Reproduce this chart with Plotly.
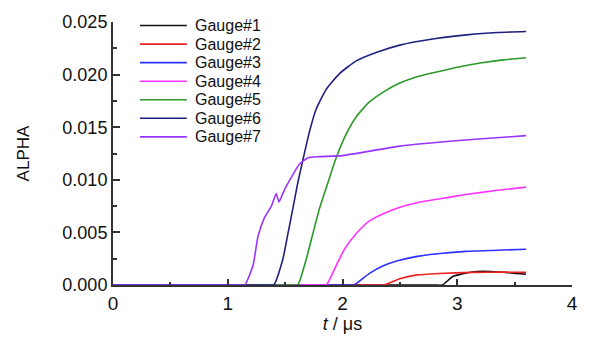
import plotly.graph_objects as go

names = ["Gauge#1", "Gauge#2", "Gauge#3", "Gauge#4", "Gauge#5", "Gauge#6", "Gauge#7"]
colors = ["#111111", "#ee2222", "#3030ff", "#ff33ff", "#2a9a2a", "#20207f", "#9933ff"]

t1 = [0, 2.80, 2.87, 2.96, 3.05, 3.13, 3.22, 3.32, 3.42, 3.6]
a1 = [0, 0, 0, 0.0008, 0.00108, 0.00124, 0.0013, 0.00126, 0.0012, 0.00102]

t2 = [0, 2.30, 2.36, 2.5, 2.64, 2.84, 3.13, 3.4, 3.6]
a2 = [0, 0, 0, 0.0006, 0.00094, 0.0011, 0.0012, 0.00122, 0.0012]

t3 = [0, 2.04, 2.10, 2.235, 2.35, 2.48, 2.64, 2.85, 3.075, 3.35, 3.6]
a3 = [0, 0, 0, 0.0011, 0.0018, 0.0023, 0.0027, 0.0030, 0.0032, 0.0033, 0.0034]

t4 = [0, 1.80, 1.858, 1.945, 2.017, 2.12, 2.235, 2.38, 2.5, 2.64, 2.85, 3.075, 3.35, 3.6]
a4 = [0, 0, 0, 0.00185, 0.0034, 0.0049, 0.0061, 0.0069, 0.0074, 0.0078, 0.0082, 0.0086, 0.0090, 0.0093]

t5 = [0, 1.56, 1.61, 1.684, 1.742, 1.8, 1.872, 1.945, 2.03, 2.12, 2.235, 2.38, 2.5, 2.65, 2.8, 3.0, 3.2, 3.4, 3.6]
a5 = [0, 0, 0, 0.00245, 0.0049, 0.0073, 0.0097, 0.0121, 0.0143, 0.0160, 0.0174, 0.0185, 0.0192, 0.0198, 0.0202, 0.0207, 0.0211, 0.0214, 0.0216]

t6 = [0, 1.34, 1.40, 1.48, 1.525, 1.568, 1.61, 1.655, 1.713, 1.77, 1.858, 1.974, 2.12, 2.293, 2.5, 2.8, 3.1, 3.35, 3.6]
a6 = [0, 0, 0, 0.00245, 0.0049, 0.0073, 0.0097, 0.0119, 0.0146, 0.0167, 0.0186, 0.0201, 0.0213, 0.0221, 0.0228, 0.0234, 0.0238, 0.0240, 0.0241]

t7 = [0, 1.10, 1.148, 1.22, 1.263, 1.32, 1.38, 1.423, 1.446, 1.496, 1.568, 1.626, 1.7, 1.8, 2.0, 2.5, 3.1, 3.6]
a7 = [0, 0, 0, 0.00185, 0.0046, 0.0064, 0.0075, 0.0087, 0.0079, 0.0091, 0.0105, 0.0115, 0.0121, 0.0122, 0.0123, 0.0132, 0.0138, 0.0142]

xs = [t1, t2, t3, t4, t5, t6, t7]
ys = [a1, a2, a3, a4, a5, a6, a7]

x_ticks = [0, 1, 2, 3, 4]
y_ticks = [0.0, 0.005, 0.010, 0.015, 0.020, 0.025]
y_tick_labels = ["0.000", "0.005", "0.010", "0.015", "0.020", "0.025"]

FONT = "Liberation Sans, Arial, sans-serif"

fig = go.Figure()
for name, col, x, y in zip(names, colors, xs, ys):
    fig.add_trace(go.Scatter(x=x, y=y, mode="lines", name=name,
                             line=dict(color=col, width=1.6, shape="spline", smoothing=0.5),
                             showlegend=False))

# compact manual legend, as in the reference
L, R, T, B = 113, 17, 12, 55
W, H = 590 - L - R, 342 - T - B
row_y = [15.7 + 19.4 * i for i in range(7)]
for name, col, py in zip(names, colors, row_y):
    yp = (287 - py) / H
    fig.add_shape(type="line", xref="paper", yref="paper",
                  x0=(140 - L) / W, x1=(187 - L) / W, y0=yp, y1=yp,
                  line=dict(color=col, width=1.6))
    fig.add_annotation(xref="paper", yref="paper", x=(194 - L) / W, y=yp,
                       text=name, showarrow=False, xanchor="left", yanchor="middle",
                       borderpad=0, font=dict(family=FONT, size=16, color="#111"))

fig.update_layout(
    width=590, height=342,
    margin=dict(l=L, r=R, t=T, b=B),
    paper_bgcolor="white", plot_bgcolor="white",
    font=dict(family=FONT, size=18, color="#111"),
    xaxis=dict(range=[0, 4], tickvals=x_ticks, ticks="inside", ticklen=6, tickwidth=1.5,
               tickcolor="#333", showline=True, linecolor="#333", linewidth=2,
               showgrid=False, zeroline=False, tickfont=dict(size=19),
               minor=dict(ticks="inside", ticklen=3, tickwidth=1.5, tickcolor="#333", dtick=0.5),
               title=dict(text="<i>t</i> / μs", font=dict(size=18), standoff=4)),
    yaxis=dict(range=[0, 0.025], tickvals=y_ticks, ticktext=y_tick_labels,
               ticks="inside", ticklen=7, tickwidth=1.5, tickcolor="#333",
               showline=True, linecolor="#333", linewidth=2,
               showgrid=False, zeroline=False, tickfont=dict(size=18),
               minor=dict(ticks="inside", ticklen=4, tickwidth=1.5, tickcolor="#333", dtick=0.0025),
               title=dict(text="ALPHA", font=dict(size=17), standoff=28)),
)

fig.write_html("out.html")
